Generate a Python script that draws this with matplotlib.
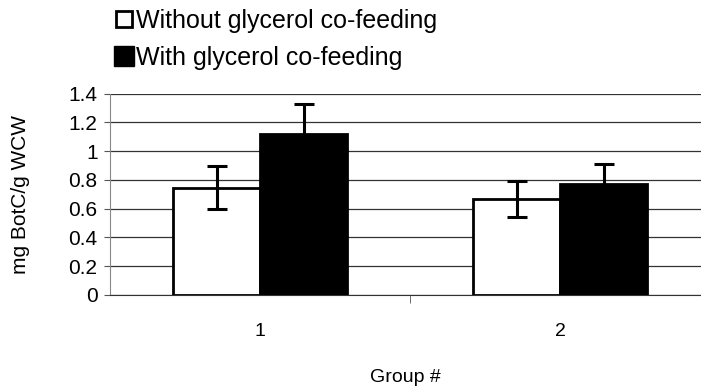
import numpy as np
import matplotlib.pyplot as plt
from matplotlib.lines import Line2D

plt.rcParams['font.family'] = ['Liberation Sans', 'DejaVu Sans']

groups = ['1', '2']
without_glycerol = [0.745, 0.665]
without_err = [0.15, 0.125]
with_glycerol = [1.12, 0.77]
with_err = [0.21, 0.14]

fig = plt.figure(figsize=(7.01, 3.89), dpi=100)
ax = fig.add_axes([0.157, 0.242, 0.843, 0.517])

x = np.arange(len(groups))
w = 0.29
ax.bar(x - w / 2, without_glycerol, w, color='white', edgecolor='black', linewidth=2, zorder=3)
ax.bar(x + w / 2, with_glycerol, w, color='black', edgecolor='black', linewidth=2, zorder=3)
ax.errorbar(x - w / 2, without_glycerol, yerr=without_err, fmt='none', ecolor='black',
            elinewidth=2.2, capsize=7, capthick=2.2, zorder=4)
ax.errorbar(x + w / 2, with_glycerol, yerr=with_err, fmt='none', ecolor='black',
            elinewidth=2.2, capsize=7, capthick=2.2, zorder=4)

ax.set_ylim(0, 1.4)
ax.set_yticks(np.arange(0, 1.41, 0.2))
ax.set_yticklabels(['0', '0.2', '0.4', '0.6', '0.8', '1', '1.2', '1.4'])
ax.set_xlim(-0.5, 1.47)
ax.set_xticks(x)
ax.set_xticklabels(groups)
ax.set_xticks([0.5], minor=True)
ax.tick_params(axis='x', which='major', length=0, pad=20, labelsize=14)
ax.tick_params(axis='x', which='minor', length=6, color='#555555')
ax.tick_params(axis='y', length=4, color='#555555', labelsize=15, pad=5)

ax.yaxis.grid(True, color='#333333', linewidth=0.9, zorder=0)
for s in ['top', 'right']:
    ax.spines[s].set_visible(False)
ax.spines['left'].set_color('#888888')
ax.spines['bottom'].set_color('#333333')

ax.set_ylabel('mg BotC/g WCW', fontsize=15)
ax.yaxis.set_label_coords(-0.135, 0.5)
ax.set_xlabel('Group #', fontsize=14)
ax.xaxis.set_label_coords(0.5, -0.37)

handles = [
    Line2D([], [], linestyle='none', marker='s', markersize=12, markerfacecolor='white',
           markeredgecolor='black', markeredgewidth=2),
    Line2D([], [], linestyle='none', marker='s', markersize=14, markerfacecolor='black',
           markeredgecolor='black'),
]
fig.legend(handles, ['Without glycerol co-feeding', 'With glycerol co-feeding'],
           loc='upper left', bbox_to_anchor=(0.141, 1.015), frameon=False, fontsize=18,
           handlelength=0.8, handletextpad=0.1, labelspacing=0.5, borderaxespad=0.2)

fig.savefig('out.png', dpi=100)
